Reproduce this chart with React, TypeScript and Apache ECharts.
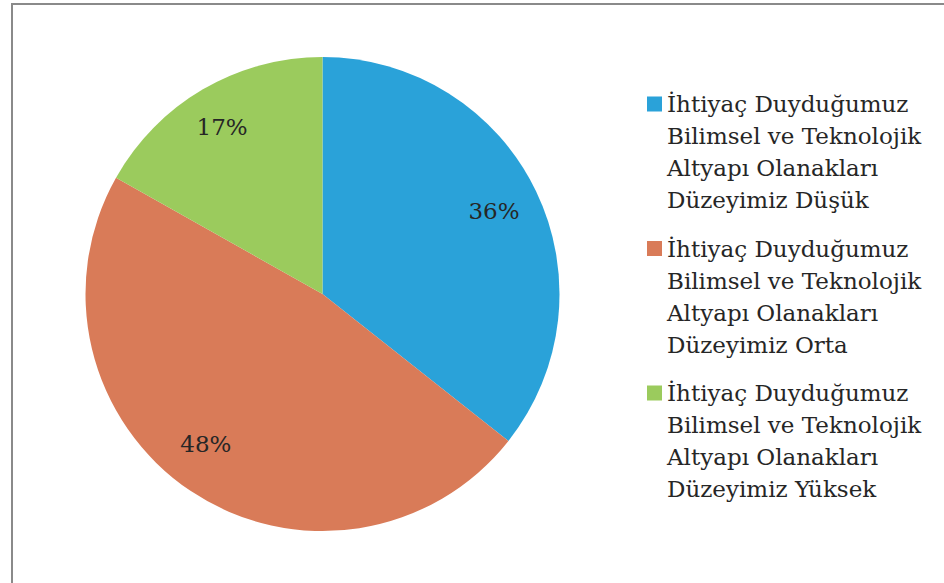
import React, { useEffect, useRef } from "react";
import * as echarts from "echarts";

const categories = [
  "İhtiyaç Duyduğumuz\nBilimsel ve Teknolojik\nAltyapı Olanakları\nDüzeyimiz Düşük",
  "İhtiyaç Duyduğumuz\nBilimsel ve Teknolojik\nAltyapı Olanakları\nDüzeyimiz Orta",
  "İhtiyaç Duyduğumuz\nBilimsel ve Teknolojik\nAltyapı Olanakları\nDüzeyimiz Yüksek",
];
const values = [36, 48, 17];
const colors = ["#2AA2D9", "#D97B58", "#9BCB5D"];

const FONT = "DejaVu Serif";

export default function App() {
  const ref = useRef<HTMLDivElement>(null);
  useEffect(() => {
    if (!ref.current) return;
    const chart = echarts.init(ref.current, null, { renderer: "svg" });
    const data = categories.map((name, i) => ({
      name,
      value: values[i],
      itemStyle: { color: colors[i] },
    }));
    const labelOffsets = [[-4, 2], [-8, -12], [-2, 1]];
    chart.setOption({
      animation: false,
      graphic: [
        {
          type: "rect",
          shape: { x: 12, y: 4, width: 1000, height: 1000 },
          style: { fill: "none", stroke: "#8a8a8a", lineWidth: 2 },
          silent: true,
        },
      ],
      legend: {
        orient: "vertical",
        left: 642,
        top: 83,
        itemWidth: 15,
        itemHeight: 111,
        itemGap: 16.5,
        icon: "path://M0,0L15,0L15,15L0,15Z M0,110.9L0.1,110.9L0.1,111L0,111Z",
        selectedMode: false,
        textStyle: {
          fontFamily: FONT,
          fontSize: 23,
          lineHeight: 32,
          color: "#262626",
        },
        data: categories,
      },
      series: [
        {
          type: "pie",
          center: [322.5, 294],
          radius: [0, 237],
          startAngle: 90,
          clockwise: true,
          itemStyle: { borderWidth: 0 },
          label: { show: false },
          labelLine: { show: false },
          emphasis: { disabled: true },
          data,
        },
        {
          type: "pie",
          center: [322.5, 294],
          radius: [147, 237],
          startAngle: 90,
          clockwise: true,
          silent: true,
          itemStyle: { color: "transparent", borderWidth: 0 },
          label: {
            show: true,
            position: "inside",
            formatter: "{c}%",
            fontFamily: FONT,
            fontSize: 23,
            color: "#262626",
          },
          labelLine: { show: false },
          emphasis: { disabled: true },
          data: categories.map((name, i) => ({
            name,
            value: values[i],
            label: { offset: labelOffsets[i] },
          })),
        },
      ],
    });
    return () => chart.dispose();
  }, []);
  return (
    <div
      ref={ref}
      style={{ position: "absolute", left: 0, top: 0, width: 944, height: 583 }}
    />
  );
}
